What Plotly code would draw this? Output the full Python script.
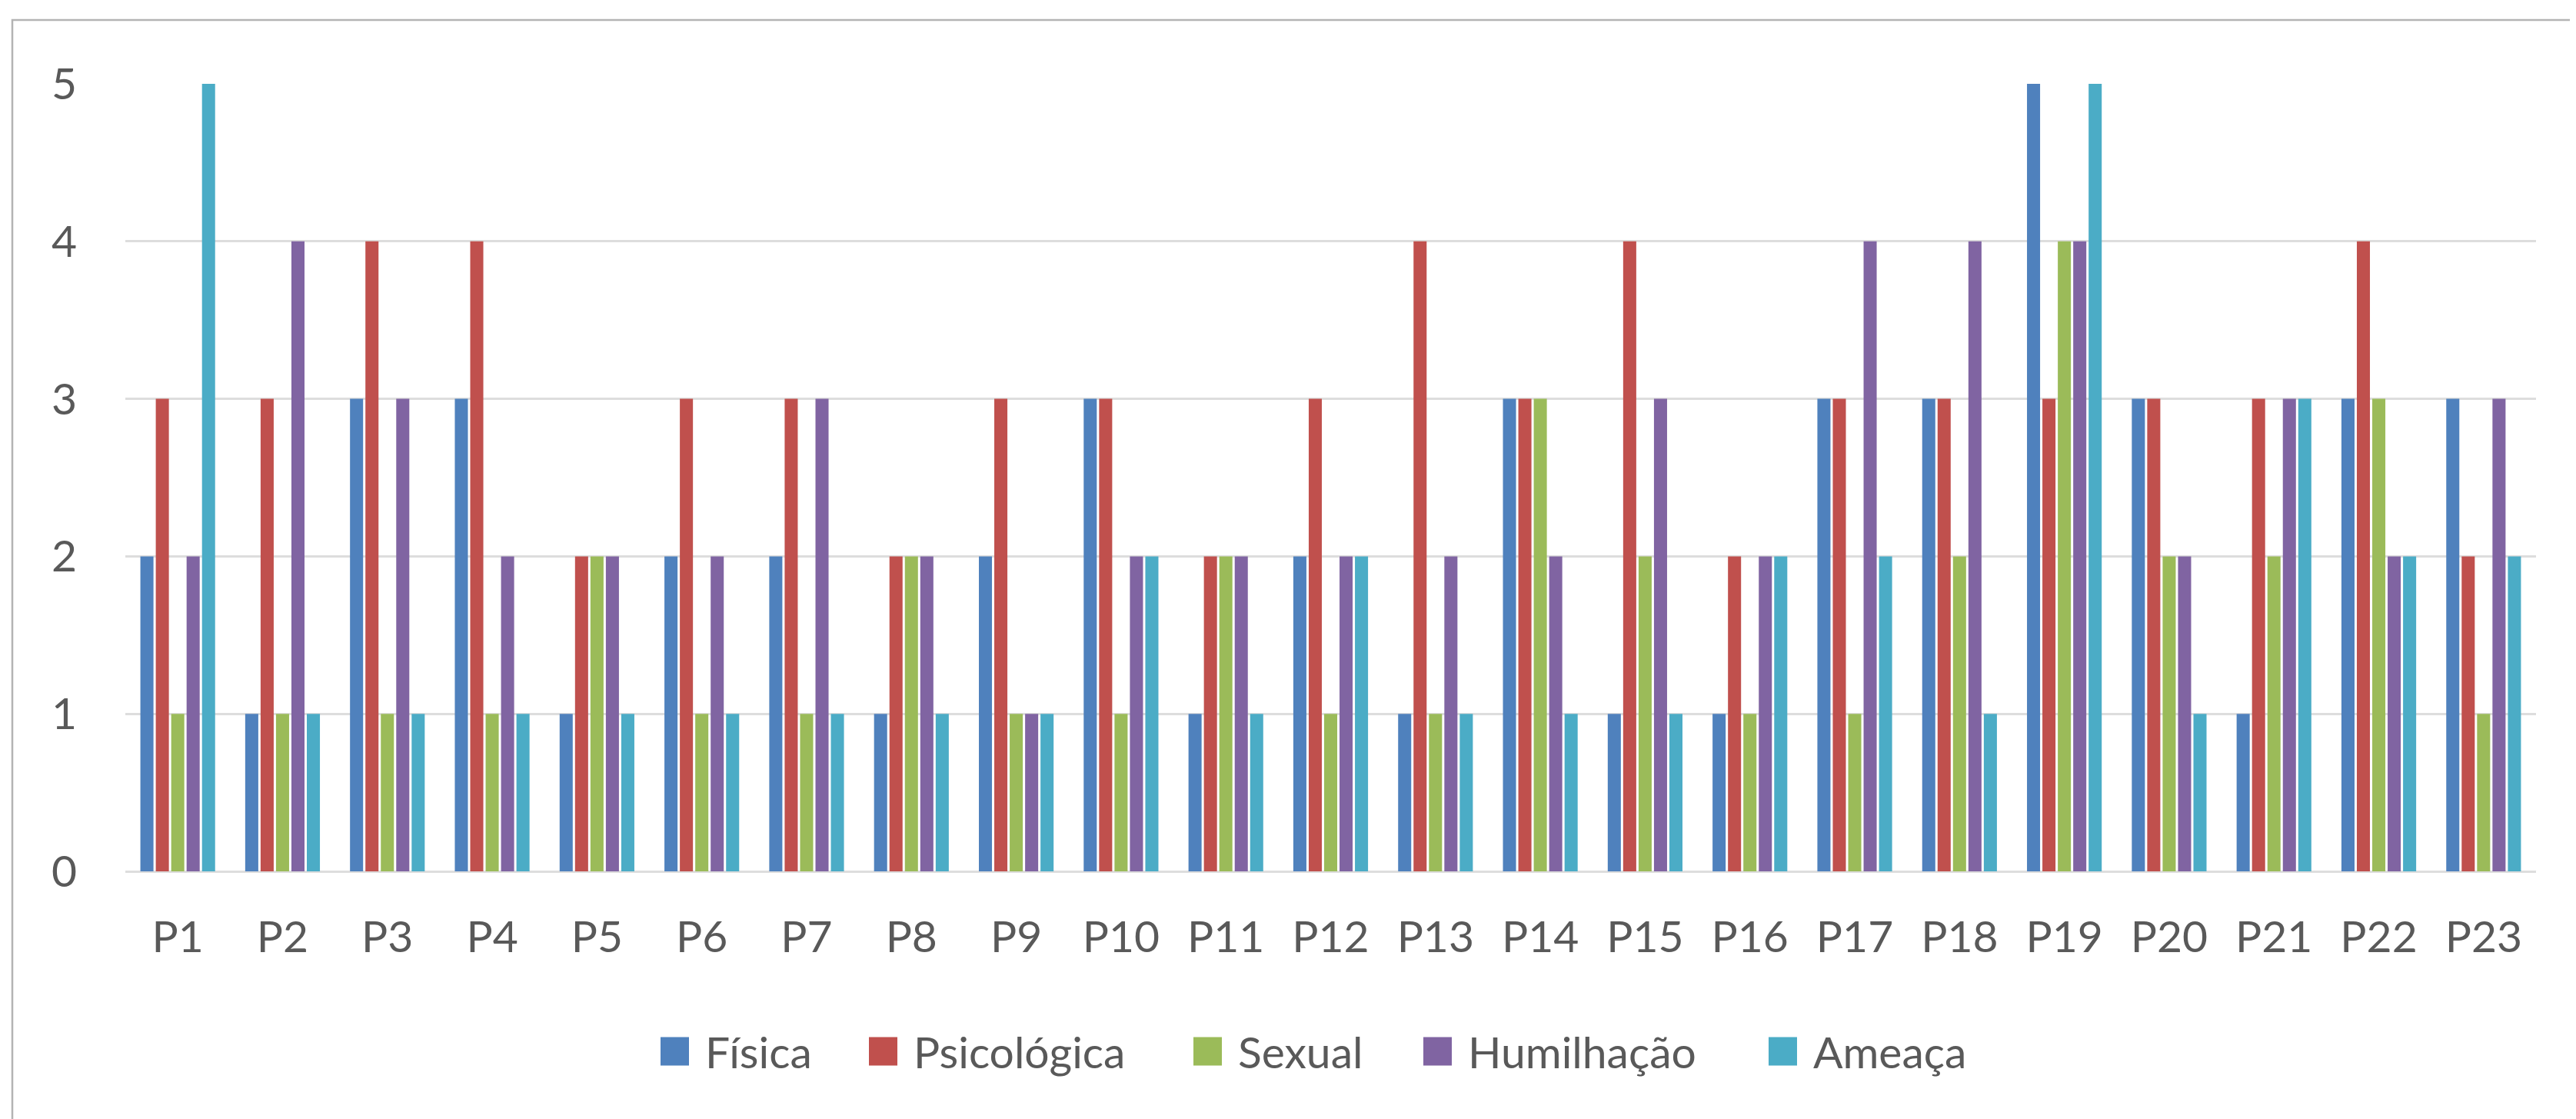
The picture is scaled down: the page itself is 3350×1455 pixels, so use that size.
import plotly.graph_objects as go

categories = [f"P{i}" for i in range(1, 24)]
fisica      = [2, 1, 3, 3, 1, 2, 2, 1, 2, 3, 1, 2, 1, 3, 1, 1, 3, 3, 5, 3, 1, 3, 3]
psicologica = [3, 3, 4, 4, 2, 3, 3, 2, 3, 3, 2, 3, 4, 3, 4, 2, 3, 3, 3, 3, 3, 4, 2]
sexual      = [1, 1, 1, 1, 2, 1, 1, 2, 1, 1, 2, 1, 1, 3, 2, 1, 1, 2, 4, 2, 2, 3, 1]
humilhacao  = [2, 4, 3, 2, 2, 2, 3, 2, 1, 2, 2, 2, 2, 2, 3, 2, 4, 4, 4, 2, 3, 2, 3]
ameaca      = [5, 1, 1, 1, 1, 1, 1, 1, 1, 2, 1, 2, 1, 1, 1, 2, 2, 1, 5, 1, 3, 2, 2]

series_names = ["Física", "Psicológica", "Sexual", "Humilhação", "Ameaça"]
series_values = [fisica, psicologica, sexual, humilhacao, ameaca]
series_colors = ["#4F81BD", "#C0504D", "#9BBB59", "#8064A2", "#4BACC6"]

# page has an 8px default body margin; figure is sized to fit the window
OFF = 8
W, H = 3350 - OFF, 1455 - OFF
L, R, T, B = 155, 52, 101, 322
FONT = "Lato, Open Sans, sans-serif"
GREY = "#595959"
FS = 57

fig = go.Figure()
for name, vals, col in zip(series_names, series_values, series_colors):
    fig.add_trace(go.Bar(x=categories, y=vals, name=name, showlegend=False,
                         marker=dict(color=col, line=dict(width=0))))

pw = W - L - R
ph = H - T - B
def px_x(x):
    return (x - L) / pw
def px_y(y):
    return (H - B - y) / ph

# custom legend (large square swatches like the original)
legend_left = [851, 1122, 1544, 1843, 2292]   # swatch left edges, figure px
SW = 37
legend_cy = 1359
shapes = [dict(type="rect", xref="paper", yref="paper",
               x0=px_x(8), x1=px_x(3400), y0=px_y(1500), y1=px_y(18),
               line=dict(color="#B4B4B4", width=2.5), fillcolor="rgba(0,0,0,0)", layer="below")]
annotations = []
for name, col, lx in zip(series_names, series_colors, legend_left):
    shapes.append(dict(type="rect", xref="paper", yref="paper",
                       x0=px_x(lx), x1=px_x(lx + SW),
                       y0=px_y(legend_cy + SW / 2), y1=px_y(legend_cy - SW / 2),
                       line=dict(width=0), fillcolor=col))
    annotations.append(dict(xref="paper", yref="paper", x=px_x(lx + 56), y=px_y(legend_cy),
                            xanchor="left", yanchor="middle", text=name, showarrow=False,
                            font=dict(family=FONT, size=FS, color=GREY)))

fig.update_layout(
    width=W, height=H,
    margin=dict(l=L, r=R, t=T, b=B, autoexpand=False),
    paper_bgcolor="white", plot_bgcolor="white",
    barmode="group", bargap=0.265, bargroupgap=0.15,
    font=dict(family=FONT, size=FS, color=GREY),
    showlegend=False,
    xaxis=dict(showgrid=False, showline=False, ticks="", tickfont=dict(size=FS, color=GREY),
               ticklabelstandoff=47),
    yaxis=dict(range=[0, 5], dtick=1, showgrid=True, gridcolor="#DDDDDD", gridwidth=3,
               zeroline=True, zerolinecolor="#DDDDDD", zerolinewidth=3, showline=False,
               ticks="", tickfont=dict(size=FS, color=GREY), ticklabelstandoff=62),
    shapes=shapes,
    annotations=annotations,
)

fig.write_html("out.html")
